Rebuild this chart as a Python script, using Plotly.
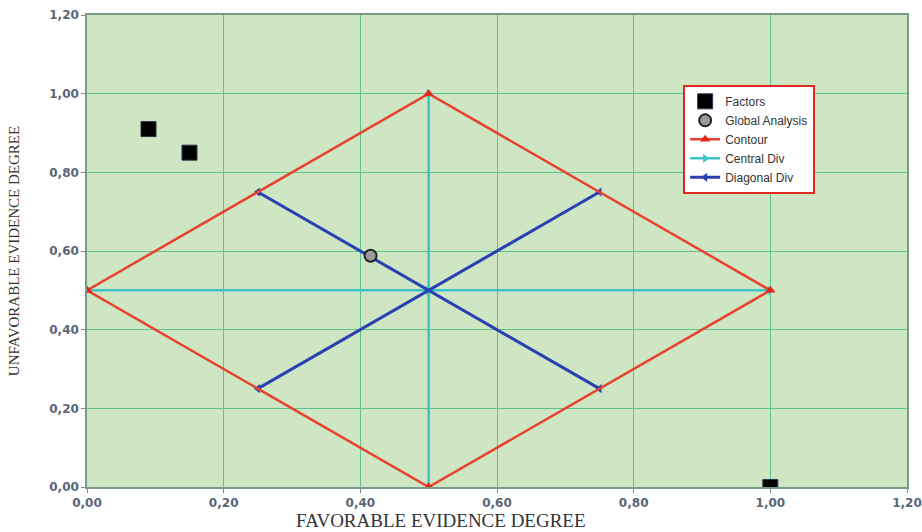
import plotly.graph_objects as go

# Data
factors_x = [0.09, 0.15, 1.00]
factors_y = [0.91, 0.85, 0.00]
global_x = [0.415]
global_y = [0.588]
contour_x = [0.0, 0.5, 1.0, 0.5, 0.0]
contour_y = [0.5, 1.0, 0.5, 0.0, 0.5]
central_x = [0.0, 0.5, 1.0, None, 0.5, 0.5, 0.5]
central_y = [0.5, 0.5, 0.5, None, 0.0, 0.5, 1.0]
diag_x = [0.25, 0.75, None, 0.25, 0.75]
diag_y = [0.75, 0.25, None, 0.25, 0.75]
tick_vals = [0.0, 0.2, 0.4, 0.6, 0.8, 1.0, 1.2]
tick_text = ["0,00", "0,20", "0,40", "0,60", "0,80", "1,00", "1,20"]

fig = go.Figure()
fig.add_trace(go.Scatter(x=central_x, y=central_y, mode="lines+markers", name="Central Div",
                         legendrank=4,
                         line=dict(color="#3cc4c8", width=2.5),
                         marker=dict(symbol="triangle-right", size=8, color="#3cc4c8")))
fig.add_trace(go.Scatter(x=diag_x, y=diag_y, mode="lines+markers", name="Diagonal Div",
                         legendrank=5,
                         line=dict(color="#2a3fb0", width=3),
                         marker=dict(symbol="triangle-left", size=8, color="#2a3fb0")))
fig.add_trace(go.Scatter(x=contour_x, y=contour_y, mode="lines+markers", name="Contour",
                         legendrank=3,
                         line=dict(color="#e8412c", width=2.5),
                         marker=dict(symbol="triangle-up", size=9, color="#e8251c")))
fig.add_trace(go.Scatter(x=factors_x, y=factors_y, mode="markers", name="Factors",
                         legendrank=1,
                         marker=dict(symbol="square", size=15, color="black", opacity=1,
                                     line=dict(color="#2a3550", width=1))))
fig.add_trace(go.Scatter(x=global_x, y=global_y, mode="markers", name="Global Analysis",
                         legendrank=2,
                         marker=dict(symbol="circle", size=12, color="#9a9a9a", opacity=1,
                                     line=dict(color="#222222", width=2))))

axis_common = dict(range=[0, 1.2], tickvals=tick_vals, ticktext=tick_text,
                   showgrid=True, gridcolor="#5cc48a", gridwidth=1,
                   zeroline=False, showline=True, linecolor="#7a9a88", linewidth=1.5,
                   mirror=True, ticks="outside", ticklen=4, tickcolor="#888888",
                   automargin=False,
                   tickfont=dict(family="DejaVu Sans", size=12, color="#5a6578", weight="bold"))

fig.update_layout(
    width=922, height=532,
    margin=dict(l=87, r=15, t=15, b=45),
    paper_bgcolor="white", plot_bgcolor="#cfe6c4",
    xaxis=dict(**axis_common),
    yaxis=dict(**axis_common,
               title=dict(text="UNFAVORABLE EVIDENCE DEGREE", standoff=26,
                          font=dict(family="Liberation Serif", size=15, color="#333333"))),
    legend=dict(x=0.727, y=0.852, xanchor="left", yanchor="top",
                bgcolor="white", bordercolor="#e02a20", borderwidth=2,
                font=dict(family="Liberation Sans", size=12, color="#333333"),
                itemwidth=30, tracegroupgap=0),
    showlegend=True,
    annotations=[dict(text="FAVORABLE EVIDENCE DEGREE", xref="paper", yref="paper",
                      x=0.432, y=-0.072, xanchor="center", yanchor="middle",
                      showarrow=False,
                      font=dict(family="Liberation Serif", size=19, color="#333333"))],
)

fig.write_html("out.html", config={"displayModeBar": False},
               post_script="document.body.style.margin='0';document.body.style.padding='0';")
